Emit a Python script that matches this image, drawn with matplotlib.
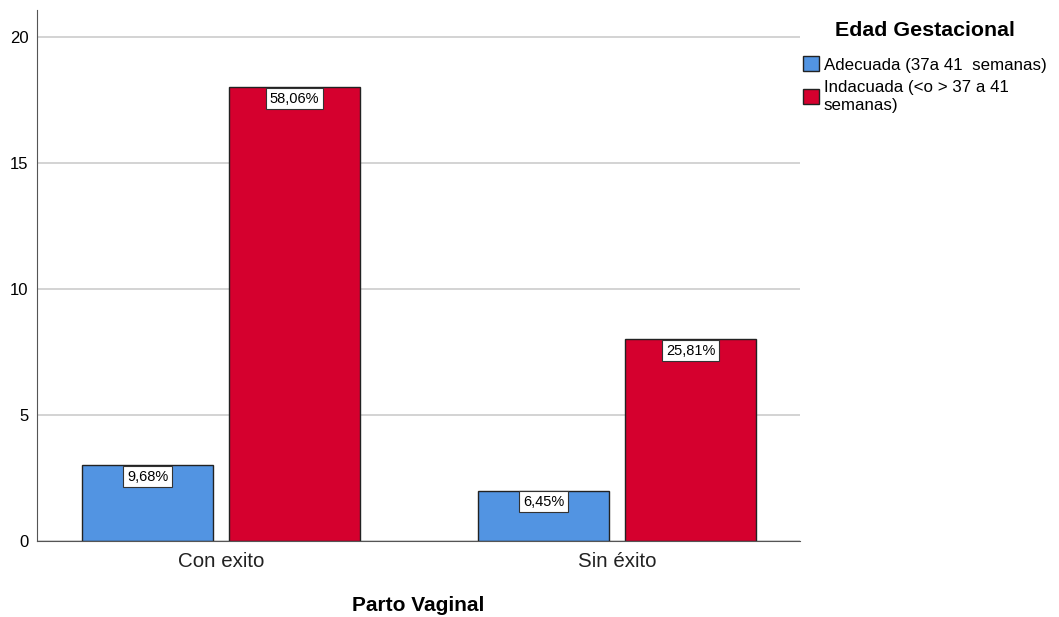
import matplotlib
matplotlib.use("Agg")
import matplotlib.pyplot as plt
import numpy as np

plt.rcParams['font.family'] = ['Liberation Sans', 'DejaVu Sans']

categories = ["Con exito", "Sin éxito"]
series_names = ["Adecuada (37a 41  semanas)", "Indacuada (<o > 37 a 41\nsemanas)"]
adecuada = [3, 2]
indacuada = [18, 8]
adecuada_labels = ["9,68%", "6,45%"]
indacuada_labels = ["58,06%", "25,81%"]
colors = ["#5294e2", "#d5002e"]

fig = plt.figure(figsize=(10.59, 6.17), dpi=100)
ax = fig.add_axes([37/1059, 1-541/617, (800-37)/1059, (541-10)/617])

x = np.arange(len(categories))
w = 131/396
off = (131+16)/2/396
ax.set_axisbelow(True)
ax.yaxis.grid(True, color="#cccccc", linewidth=1.2)
handles = []
for vals, labs, col, sgn, name in [(adecuada, adecuada_labels, colors[0], -1, series_names[0]),
                                   (indacuada, indacuada_labels, colors[1], 1, series_names[1])]:
    bars = ax.bar(x + sgn*off, vals, width=w, color=col, edgecolor="#222222", linewidth=1, label=name)
    handles.append(bars)
    for b, lab in zip(bars, labs):
        ax.annotate(lab, (b.get_x()+b.get_width()/2, b.get_height()), xytext=(0, -3),
                    textcoords="offset points", ha="center", va="top", fontsize=10.5,
                    bbox=dict(boxstyle="square,pad=0.25", fc="white", ec="#333333", lw=0.8))

ax.set_xlim((37-221)/396, (800-221)/396)
ax.set_ylim(0, 20 + 27/25.2)
ax.set_yticks([0, 5, 10, 15, 20])
ax.set_xticks(x)
ax.set_xticklabels(categories, fontsize=14.8, color="#222222")
ax.tick_params(axis='y', length=0, labelsize=12, pad=6)
ax.tick_params(axis='x', length=0, pad=8)
for s in ["top", "right"]:
    ax.spines[s].set_visible(False)
ax.spines["left"].set_color("#555555")
ax.spines["bottom"].set_color("#555555")
ax.set_xlabel("Parto Vaginal", fontsize=15, fontweight="bold", labelpad=18)

fig.text(925/1059, 1-31/617, "Edad Gestacional", ha="center", va="center",
         fontsize=15.4, fontweight="bold")
leg = ax.legend(handles=handles, labels=series_names, loc="upper left",
                bbox_to_anchor=(788/1059, 1-41/617),
                bbox_transform=fig.transFigure, frameon=False, fontsize=12.2,
                handlelength=0.9, handleheight=1.0, handletextpad=0.3, labelspacing=0.45)

fig.savefig("out.png", dpi=100)
